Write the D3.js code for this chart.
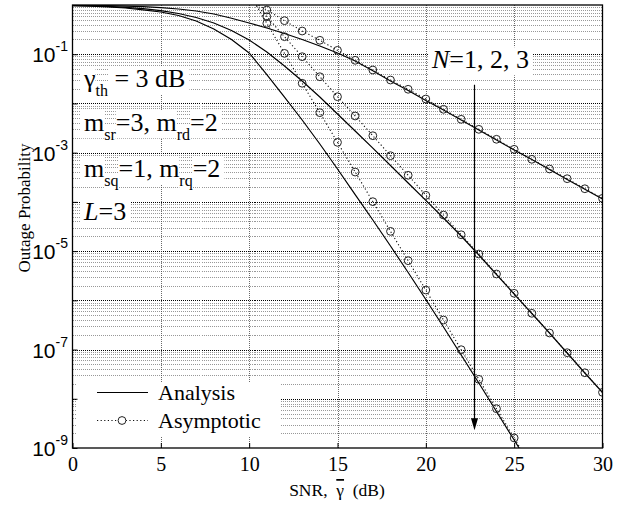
<!DOCTYPE html>
<html>
<head>
<meta charset="utf-8">
<script src="https://cdn.jsdelivr.net/npm/d3@7"></script>
<style>
  body { margin: 0; background: #fff; }
  text { white-space: pre; }
</style>
</head>
<body>
<svg id="chart" width="628" height="508"></svg>
<script>
// SNR values (dB) for the analysis curves
var snr = [0, 1, 2, 3, 4, 5, 6, 7, 8, 9, 10, 11, 12, 13, 14, 15, 16, 17, 18, 19, 20,
           21, 22, 23, 24, 25, 26, 27, 28, 29, 30];

// Outage probability, analysis, N = 1, 2, 3
var analysisN1 = [0.98, 0.977, 0.968, 0.95, 0.923, 0.885, 0.83, 0.755, 0.656, 0.537, 0.431,
                  0.341, 0.264, 0.199, 0.147, 0.106, 0.0728, 0.046, 0.0286, 0.0183, 0.0115,
                  7.36e-3, 4.61e-3, 2.88e-3, 1.81e-3, 1.13e-3, 7.26e-4, 4.55e-4, 2.85e-4, 1.81e-4, 1.15e-4];
var analysisN2 = [0.972, 0.959, 0.937, 0.898, 0.841, 0.766, 0.672, 0.557, 0.431, 0.303, 0.195,
                  0.111, 0.0576, 0.0286, 0.0135, 6.10e-3, 2.75e-3, 1.24e-3, 5.48e-4, 2.42e-4, 1.07e-4,
                  4.70e-5, 2.03e-5, 8.34e-6, 3.35e-6, 1.34e-6, 5.40e-7, 2.17e-7, 8.51e-8, 3.34e-8, 1.34e-8];
var analysisN3 = [0.968, 0.950, 0.919, 0.869, 0.799, 0.721, 0.612, 0.473, 0.325, 0.199, 0.106,
                  0.0387, 0.0135, 4.61e-3, 1.50e-3, 4.66e-4, 1.41e-4, 4.28e-5, 1.27e-5, 3.67e-6, 1.04e-6,
                  2.87e-7, 7.75e-8, 2.09e-8, 5.51e-9, 1.45e-9, 3.83e-10];

// SNR values (dB) for the asymptotic curves
var snrAsym = [10, 11, 12, 13, 14, 15, 16, 17, 18, 19, 20, 21, 22, 23, 24, 25, 26, 27, 28, 29, 30];

// Outage probability, asymptotic, N = 1, 2, 3
var asymN1 = [1.26, 0.791, 0.480, 0.296, 0.192, 0.120, 0.0752, 0.0478, 0.0299, 0.0194, 0.0123,
              7.60e-3, 4.76e-3, 2.98e-3, 1.87e-3, 1.17e-3, 7.33e-4, 4.66e-4, 2.96e-4, 1.85e-4, 1.18e-4];
var asymN2 = [1.47, 0.578, 0.227, 0.0891, 0.0349, 0.0137, 5.56e-3, 2.21e-3, 8.68e-4, 3.47e-4, 1.36e-4,
              5.41e-5, 2.15e-5, 8.73e-6, 3.43e-6, 1.39e-6, 5.45e-7, 2.17e-7, 8.63e-8, 3.38e-8, 1.35e-8];
var asymN3 = [1.71, 0.425, 0.104, 0.0257, 6.49e-3, 1.62e-3, 4.04e-4, 1.01e-4, 2.52e-5, 6.38e-6, 1.62e-6,
              3.98e-7, 9.93e-8, 2.48e-8, 6.28e-9, 1.60e-9, 4.0e-10];

// Axis ticks
var xTicks = [0, 5, 10, 15, 20, 25, 30];
var yLabelExps = [-1, -3, -5, -7, -9];

// Arrow through the curves (N increasing)
var arrowSnr = 22.7, arrowFrom = 2.4e-2, arrowTo = 2.3e-9;

// Texts
var xTitle = ["SNR,  ", "\u03b3", "  (dB)"];
var yTitle = "Outage Probability";
var legendLabels = ["Analysis", "Asymptotic"];
var noteLines = [
  [{t: "\u03b3"}, {t: "th", sub: true}, {t: " = 3 dB"}],
  [{t: "m"}, {t: "sr", sub: true}, {t: "=3, m"}, {t: "rd", sub: true}, {t: "=2"}],
  [{t: "m"}, {t: "sq", sub: true}, {t: "=1, m"}, {t: "rq", sub: true}, {t: "=2"}],
  [{t: "L", it: true}, {t: "=3"}]
];
var noteN = [{t: "N", it: true}, {t: "=1, 2, 3"}];

var serif = "'Liberation Serif', 'Times New Roman', serif";
var sans = "'Liberation Sans', Arial, sans-serif";

// Plot area
var plotL = 72.5, plotR = 602.5, plotT = 5, plotB = 448;

var svg = d3.select("#chart");
svg.append("rect").attr("width", 628).attr("height", 508).attr("fill", "#fff");

var x = d3.scaleLinear().domain([0, 30]).range([plotL, plotR]);
var y = d3.scaleLog().domain([1, 1e-9]).range([plotT, plotB]);

svg.append("clipPath").attr("id", "plot-clip")
  .append("rect")
    .attr("x", plotL).attr("y", plotT)
    .attr("width", plotR - plotL).attr("height", plotB - plotT);

// Grid lines
var grid = svg.append("g")
    .attr("stroke", "#444")
    .attr("stroke-dasharray", "1,1")
    .attr("shape-rendering", "crispEdges");

var minor = [];
for (var e = -9; e < 0; e++) {
  for (var m = 2; m <= 9; m++) minor.push(m * Math.pow(10, e));
}
grid.selectAll("line.minor")
  .data(minor)
  .enter().append("line")
    .attr("class", "minor")
    .attr("x1", plotL).attr("x2", plotR)
    .attr("y1", function(d){ return Math.round(y(d)) + 0.5; })
    .attr("y2", function(d){ return Math.round(y(d)) + 0.5; })
    .attr("stroke-opacity", 0.55);

var decades = d3.range(-8, 0).map(function(k){ return Math.pow(10, k); });
grid.selectAll("line.major")
  .data(decades)
  .enter().append("line")
    .attr("class", "major")
    .attr("x1", plotL).attr("x2", plotR)
    .attr("y1", function(d){ return Math.round(y(d)) + 0.5; })
    .attr("y2", function(d){ return Math.round(y(d)) + 0.5; })
    .attr("stroke", "#000");

grid.selectAll("line.vert")
  .data(xTicks.slice(1, -1))
  .enter().append("line")
    .attr("class", "vert")
    .attr("y1", plotT).attr("y2", plotB)
    .attr("x1", function(d){ return Math.round(x(d)) + 0.5; })
    .attr("x2", function(d){ return Math.round(x(d)) + 0.5; })
    .attr("stroke-opacity", 0.8);

// Curves
var plot = svg.append("g").attr("clip-path", "url(#plot-clip)");

var line = d3.line()
    .x(function(d){ return x(d[0]); })
    .y(function(d){ return y(d[1]); });

[analysisN1, analysisN2, analysisN3].forEach(function(vals){
  plot.append("path")
    .datum(vals.map(function(v, i){ return [snr[i], v]; }))
    .attr("fill", "none")
    .attr("stroke", "#000")
    .attr("stroke-width", 1.2)
    .attr("d", line);
});

[asymN1, asymN2, asymN3].forEach(function(vals){
  var pts = vals.map(function(v, i){ return [snrAsym[i], v]; });
  plot.append("path")
    .datum(pts)
    .attr("fill", "none")
    .attr("stroke", "#111")
    .attr("stroke-width", 1.1)
    .attr("stroke-dasharray", "1.2,2.4")
    .attr("d", line);
  plot.selectAll(null)
    .data(pts)
    .enter().append("circle")
      .attr("cx", function(d){ return x(d[0]); })
      .attr("cy", function(d){ return y(d[1]); })
      .attr("r", 3.9)
      .attr("fill", "none")
      .attr("stroke", "#222")
      .attr("stroke-width", 1);
});

// Arrow
var ax = Math.round(x(arrowSnr)) + 0.5;
svg.append("line")
  .attr("x1", ax).attr("x2", ax)
  .attr("y1", y(arrowFrom)).attr("y2", y(arrowTo) - 8)
  .attr("stroke", "#000").attr("stroke-width", 1.2);
svg.append("path")
  .attr("d", "M" + (ax - 3.5) + "," + (y(arrowTo) - 12) + "L" + (ax + 3.5) + "," + (y(arrowTo) - 12) +
             "L" + ax + "," + y(arrowTo) + "Z")
  .attr("fill", "#000");

// Annotations with white backgrounds behind each text run
function richText(x0, base, parts, size, subSize) {
  var g = svg.append("g").attr("font-family", serif);
  var xc = x0;
  parts.forEach(function(p, i){
    var fs = p.sub ? subSize : size;
    var by = base + (p.sub ? 9 : 0);
    var t = g.append("text")
      .attr("x", xc).attr("y", by)
      .attr("font-size", fs)
      .attr("font-style", p.it ? "italic" : null)
      .text(p.t);
    var w = t.node().getComputedTextLength();
    var padL = i === 0 ? 4 : 0, padR = i === parts.length - 1 ? 4 : 0;
    g.insert("rect", "text")
      .attr("x", xc - padL).attr("y", by - fs * 0.8)
      .attr("width", w + padL + padR).attr("height", fs * 1.08)
      .attr("fill", "#fff");
    xc += w;
  });
}

var noteBase = [87, 131, 177, 220];
noteLines.forEach(function(parts, i){
  richText(84, noteBase[i], parts, 26, 16);
});
richText(432, 68, noteN, 26, 16);

// Legend
var legend = svg.append("g").attr("font-family", serif).attr("font-size", 22);
legend.append("rect")
  .attr("x", 76).attr("y", 383).attr("width", 204).attr("height", 53)
  .attr("fill", "#fff");
legend.append("line")
  .attr("x1", 97).attr("x2", 148).attr("y1", 392.5).attr("y2", 392.5)
  .attr("stroke", "#000").attr("stroke-width", 1.2);
legend.append("line")
  .attr("x1", 97).attr("x2", 148).attr("y1", 420.5).attr("y2", 420.5)
  .attr("stroke", "#111").attr("stroke-width", 1.1).attr("stroke-dasharray", "1.2,2.4");
legend.append("circle")
  .attr("cx", 122).attr("cy", 420.5).attr("r", 3.9)
  .attr("fill", "#fff").attr("stroke", "#222");
legend.selectAll("text")
  .data(legendLabels)
  .enter().append("text")
    .attr("x", 158)
    .attr("y", function(d, i){ return 400 + i * 28; })
    .text(function(d){ return d; });

// Axes
var xAxis = d3.axisBottom(x).tickValues(xTicks).tickSize(-5).tickPadding(9)
    .tickFormat(d3.format("d"));
var gx = svg.append("g")
    .attr("transform", "translate(0," + plotB + ")")
    .call(xAxis);
gx.select(".domain").remove();
gx.selectAll("text").attr("font-family", serif).attr("font-size", 20).attr("fill", "#000");

var yAxis = d3.axisLeft(y).tickValues(d3.range(-9, 1).map(function(k){ return Math.pow(10, k); }))
    .tickSize(-5).tickFormat("");
var gy = svg.append("g")
    .attr("transform", "translate(" + plotL + ",0)")
    .call(yAxis);
gy.select(".domain").remove();

svg.append("rect")
  .attr("x", plotL).attr("y", plotT)
  .attr("width", plotR - plotL).attr("height", plotB - plotT)
  .attr("fill", "none").attr("stroke", "#000").attr("stroke-width", 1.3);

// y tick labels as 10^k
var yl = svg.append("g").attr("font-family", sans).attr("fill", "#000");
yLabelExps.forEach(function(k){
  var t = yl.append("text")
    .attr("x", 68)
    .attr("y", y(Math.pow(10, k)) + 8)
    .attr("text-anchor", "end")
    .attr("font-size", 21)
    .text("10");
  t.append("tspan")
    .attr("dy", -11)
    .attr("font-size", 14)
    .text(k);
});

// Axis titles
var xt = svg.append("text")
  .attr("x", 337).attr("y", 496)
  .attr("text-anchor", "middle")
  .attr("font-family", serif).attr("font-size", 17.5);
xt.append("tspan").text(xTitle[0]);
xt.append("tspan").attr("text-decoration", "overline").text(xTitle[1]);
xt.append("tspan").text(xTitle[2]);

svg.append("text")
  .attr("transform", "translate(30,208) rotate(-90)")
  .attr("text-anchor", "middle")
  .attr("font-family", serif).attr("font-size", 17)
  .text(yTitle);
</script>
</body>
</html>
